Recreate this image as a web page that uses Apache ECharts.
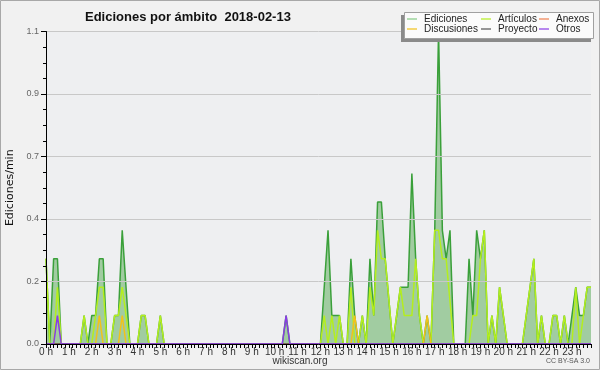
<!DOCTYPE html>
<html><head><meta charset="utf-8">
<script src="https://cdn.jsdelivr.net/npm/echarts@6/dist/echarts.min.js"></script>
<style>html,body{margin:0;padding:0;background:#f1f1f1}#c{width:600px;height:370px}</style>
</head><body><div id="c"></div>
<script>
// 10-minute bins, edits per minute (rows = hours 0..23, 6 bins each)
var ediciones = [
 0.3,0,0.3,0.3,0,0, 0,0,0,0,0.1,0, 0.1,0.1,0.3,0.3,0,0, 0.1,0.1,0.4,0.2,0,0,
 0,0.1,0.1,0,0,0, 0.1,0,0,0,0,0, 0,0,0,0,0,0, 0,0,0,0,0,0,
 0,0,0,0,0,0, 0,0,0,0,0,0, 0,0,0,0.1,0,0, 0,0,0,0,0,0,
 0,0.2,0.4,0.1,0.1,0.1, 0,0,0.3,0.1,0,0.1, 0,0.3,0.1,0.5,0.5,0.3, 0.15,0,0.1,0.2,0.2,0.2,
 0.6,0.3,0.1,0,0.1,0, 0.4,1.1,0.4,0.3,0.4,0, 0,0,0,0.3,0.1,0.4, 0.3,0.4,0,0.1,0,0.2,
 0.1,0,0,0,0,0, 0.1,0.2,0.3,0,0.1,0, 0,0.1,0.1,0,0.1,0, 0.1,0.2,0.1,0.1,0.2,0.2
];
var articulos = [
 0.3,0,0,0.2,0,0, 0,0,0,0,0.1,0, 0,0.1,0.2,0.2,0,0, 0.1,0.1,0.2,0.1,0,0,
 0,0.1,0.1,0,0,0, 0.1,0,0,0,0,0, 0,0,0,0,0,0, 0,0,0,0,0,0,
 0,0,0,0,0,0, 0,0,0,0,0,0, 0,0,0,0,0,0, 0,0,0,0,0,0,
 0,0.1,0,0.1,0,0.1, 0,0,0.2,0,0,0.1, 0,0.2,0.1,0.4,0.3,0.3, 0.15,0,0.1,0.2,0.1,0.1,
 0.1,0.3,0.1,0,0,0, 0.4,0.4,0.3,0.3,0.15,0, 0,0,0,0,0.1,0.1, 0.3,0.4,0,0.1,0,0.2,
 0.1,0,0,0,0,0, 0.1,0.2,0.3,0,0.1,0, 0,0.1,0.1,0,0.1,0, 0,0.2,0,0.1,0.2,0.2
];
var discusiones = [
 0,0,0,0,0,0, 0,0,0,0,0,0, 0,0,0.1,0,0,0, 0,0,0.1,0,0,0,
 0,0,0,0,0,0, 0,0,0,0,0,0, 0,0,0,0,0,0, 0,0,0,0,0,0,
 0,0,0,0,0,0, 0,0,0,0,0,0, 0,0,0,0,0,0, 0,0,0,0,0,0,
 0,0,0,0,0,0, 0,0,0,0.1,0,0, 0,0,0,0,0,0, 0,0,0,0,0,0,
 0,0,0,0,0.1,0, 0,0,0,0,0,0, 0,0,0,0,0,0, 0,0,0,0,0,0,
 0,0,0,0,0,0, 0,0,0,0,0,0, 0,0,0,0,0,0, 0,0,0,0,0,0
];
var otros = [
 0,0,0,0.1,0,0, 0,0,0,0,0,0, 0,0,0,0,0,0, 0,0,0,0,0,0,
 0,0,0,0,0,0, 0,0,0,0,0,0, 0,0,0,0,0,0, 0,0,0,0,0,0,
 0,0,0,0,0,0, 0,0,0,0,0,0, 0,0,0,0.1,0,0, 0,0,0,0,0,0,
 0,0,0,0,0,0, 0,0,0,0,0,0, 0,0,0,0,0,0, 0,0,0,0,0,0,
 0,0,0,0,0,0, 0,0,0,0,0,0, 0,0,0,0,0,0, 0,0,0,0,0,0,
 0,0,0,0,0,0, 0,0,0,0,0,0, 0,0,0,0,0,0, 0,0,0,0,0,0
];
var anexos = ediciones.map(function(){return 0;});
var proyecto = ediciones.map(function(){return 0;});
var hourLabels = ['0 h','1 h','2 h','3 h','4 h','5 h','6 h','7 h','8 h','9 h','10 h','11 h','12 h','13 h','14 h','15 h','16 h','17 h','18 h','19 h','20 h','21 h','22 h','23 h'];

var categories = ediciones.map(function(v,i){var h=Math.floor(i/6),m=(i%6)*10;return h+':'+(m<10?'0':'')+m;});

var FONT = 'Liberation Sans';
function lineSeries(name, data, color, extra){
  var s = {name:name,type:'line',data:data,symbol:'none',smooth:false,animation:false,
    lineStyle:{color:color,width:1.5},itemStyle:{color:color},emphasis:{disabled:true}};
  for (var k in extra) s[k]=extra[k];
  return s;
}
var chart = echarts.init(document.getElementById('c'), null, {renderer:'canvas'});
var legendCommon = {orient:'vertical',top:14,itemGap:0,itemWidth:10,itemHeight:1.2,icon:'rect',
  textStyle:{fontFamily:FONT,fontSize:10,lineHeight:10,color:'#222',padding:[0,0,0,2]},selectedMode:false,z:20,padding:0};
chart.setOption({
  backgroundColor:'#f1f1f1',
  animation:false,
  title:{text:'Ediciones por ámbito  2018-02-13',left:80,top:6,textStyle:{fontFamily:FONT,fontSize:13,fontWeight:'bold',color:'#111'}},
  grid:{left:46,right:9,top:31.5,bottom:26,show:true,backgroundColor:'#eeeff1',borderWidth:0,containLabel:false,outerBoundsMode:'none'},
  graphic:[
    {type:'rect',z:10,shape:{x:401,y:15,width:190,height:27},style:{fill:'#8a8a8a'}},
    {type:'rect',z:11,shape:{x:404.5,y:12.5,width:189,height:26},style:{fill:'#fbfbfb',stroke:'#a0a0a0',lineWidth:1}},
    {type:'rect',z:30,shape:{x:0.5,y:0.5,width:599,height:369},style:{fill:'none',stroke:'#a8a8a8',lineWidth:1}},
    {type:'text',z:30,left:'center',top:356,style:{text:'wikiscan.org',fontFamily:FONT,fontSize:10,fill:'#333'}},
    {type:'text',z:30,right:10,top:358,style:{text:'CC BY-SA 3.0',fontFamily:FONT,fontSize:7,fill:'#555'}}
  ],
  legend:[
    Object.assign({left:407,data:['Ediciones','Discusiones']},legendCommon),
    Object.assign({left:481,data:['Artículos','Proyecto']},legendCommon),
    Object.assign({left:539,data:['Anexos','Otros']},legendCommon)
  ],
  xAxis:{type:'category',data:categories,boundaryGap:false,z:5,
    axisLine:{lineStyle:{color:'#000',width:1}},
    axisTick:{show:true,interval:0,length:4,lineStyle:{color:'#000'}},
    axisLabel:{interval:5,margin:3,fontFamily:FONT,fontSize:10,color:'#333',alignMinLabel:'center',alignMaxLabel:'center',
      formatter:function(v,i){return hourLabels[Math.floor(i/6)];}},
    splitLine:{show:false}},
  yAxis:{type:'value',min:0,max:1.1,interval:0.22,z:5,
    name:'Ediciones/min',nameLocation:'middle',nameGap:25,
    nameTextStyle:{fontFamily:'DejaVu Sans',fontSize:11,color:'#111'},
    axisLine:{show:true,lineStyle:{color:'#000'}},
    axisTick:{show:true,length:5,lineStyle:{color:'#000'}},
    minorTick:{show:true,splitNumber:4,length:3,lineStyle:{color:'#000'}},
    axisLabel:{margin:7,fontFamily:FONT,fontSize:9,color:'#666',formatter:function(v){return v.toFixed(1);}},
    splitLine:{show:true,lineStyle:{color:'#c8c8c8',width:1}}},
  series:[
    lineSeries('Ediciones',ediciones,'#3aa03a',{areaStyle:{color:'#a1cca1',opacity:1},itemStyle:{color:'#86cc86'}}),
    lineSeries('Artículos',articulos,'#b4ee1e'),
    lineSeries('Discusiones',discusiones,'#f2c21a'),
    lineSeries('Anexos',anexos,'#f08050'),
    lineSeries('Proyecto',proyecto,'#555555'),
    lineSeries('Otros',otros,'#8a3ce6')
  ]
});
</script></body></html>
